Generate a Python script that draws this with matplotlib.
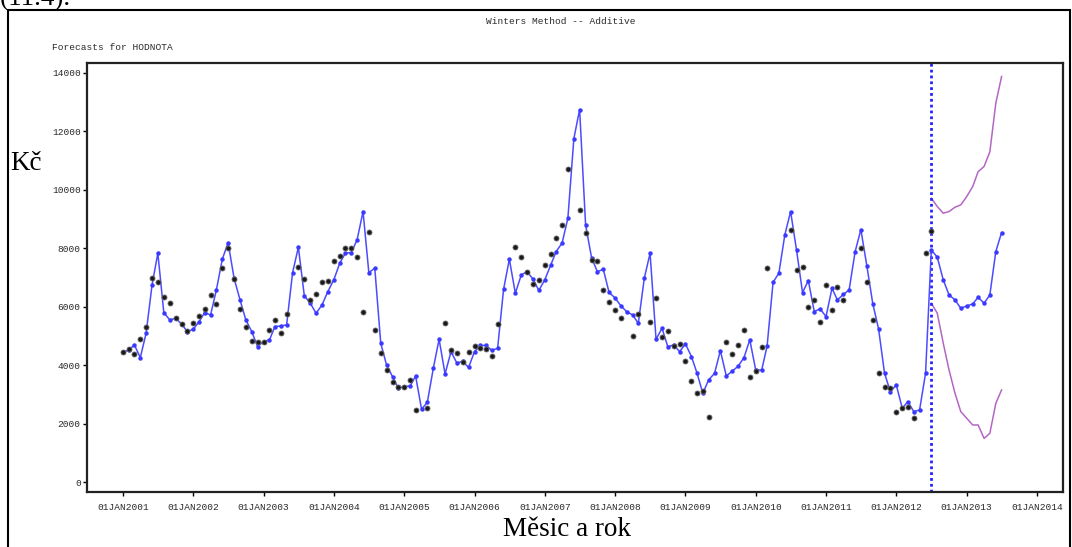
import numpy as np
import pandas as pd
import matplotlib
matplotlib.use("Agg")
import matplotlib.pyplot as plt
from matplotlib.patches import Rectangle

W, H = 1072, 547
nan = np.nan

# One-step-ahead predictions of HODNOTA, monthly from Jan 2001 to Jun 2012
predicted = [
    4441, 4521, 4692, 4258, 5091, 6747, 7831, 5799, 5548, 5605, 5411, 5148,
    5228, 5491, 5799, 5719, 6575, 7626, 8196, 6975, 6233, 5548, 5148, 4635,
    4806, 4863, 5320, 5342, 5377, 7169, 8037, 6370, 6119, 5776, 6062, 6518,
    6918, 7489, 7831, 7854, 8288, 9258, 7169, 7317, 4749, 4007, 3607, 3208,
    3265, 3288, 3630, 2489, 2730, 3893, 4886, 3699, 4463, 4075, 4130, 3920,
    4463, 4675, 4675, 4510, 4578, 6598, 7626, 6461, 7089, 7203, 6941, 6560,
    6918, 7431, 7888, 8180, 9030, 11750, 12750, 8801, 7680, 7200, 7280, 6490,
    6300, 6027, 5833, 5719, 5434, 6975, 7831, 4886, 5263, 4635, 4692, 4463,
    4726, 4292, 3744, 3037, 3493, 3721, 4498, 3630, 3800, 3960, 4260, 4870,
    3825, 3836, 4658, 6840, 7146, 8459, 9258, 7930, 6484, 6895, 5833, 5930,
    5662, 6632, 6233, 6420, 6575, 7880, 8640, 7400, 6100, 5240, 3721, 3094,
    3322, 2523, 2751, 2409, 2466, 3721,
]

# Observed values, Jan 2001 to Jul 2012
actual = [
    4441, 4543, 4383, 4897, 5320, 6975, 6838, 6324, 6119, 5605, 5411, 5183,
    5434, 5696, 5913, 6404, 6084, 7317, 8002, 6941, 5913, 5320, 4840, 4806,
    4783, 5205, 5548, 5114, 5753, nan, 7374, 6941, 6233, 6438, 6861, 6884,
    7580, 7751, 8002, 8002, 7717, 5833, 8573, 5205, 4406, 3836, 3413, 3242,
    3242, 3493, 2466, nan, 2523, nan, nan, 5434, 4530, 4429, 4121, 4463,
    4658, 4578, 4560, 4315, 5411, nan, nan, 8059, 7690, 7203, 6770, 6918,
    7420, 7790, 8360, 8801, 10719, nan, 9315, 8516, 7600, 7560, 6575, 6150,
    5890, 5605, nan, 5000, 5753, nan, 5491, 6290, 4977, 5183, 4658, 4726,
    4155, 3470, 3037, 3110, 2237, nan, nan, 4806, 4383, 4692, 5205, 3580,
    3805, 4635, 7340, nan, nan, nan, 8630, 7250, 7374, 5982, 6233, 5480,
    6730, 5890, 6667, 6220, nan, nan, 8002, 6840, 5560, 3744, 3265, 3208,
    2409, 2523, 2580, 2180, nan, 7831, 8596,
]

# Forecast with 95% limits, Jul 2012 to Jul 2013
forecast = [7945, 7694, 6918, 6404, 6233, 5947, 6027, 6096, 6324, 6119, 6404, 7888, 8539]
upper95 = [9715, 9429, 9200, 9258, 9406, 9486, 9772, 10114, 10620, 10800, 11300, 12968, 13881]
lower95 = [6119, 5776, 4749, 3836, 3037, 2409, 2180, 1952, 1952, 1495, 1667, 2694, 3151]

y_ticks = [0, 2000, 4000, 6000, 8000, 10000, 12000, 14000]
years = list(range(2001, 2015))
x_labels = [f"01JAN{y}" for y in years]

hist_dates = pd.date_range("2001-01-01", periods=len(actual), freq="MS")
fc_dates = pd.date_range(hist_dates[-1], periods=len(forecast), freq="MS")
line_dates = hist_dates[:len(predicted)].append(fc_dates)
line_vals = list(predicted) + list(forecast)

mono = "Liberation Mono"
serif = "Liberation Serif"
txt_col = "#2a2a2a"

fig = plt.figure(figsize=(W / 100, H / 100), dpi=100)
fig.patch.set_facecolor("white")

def fx(px):
    return px / W

def fy(py):
    return 1 - py / H

# outer frame of the report page
fig.patches.append(Rectangle((fx(8), -0.05), fx(1070) - fx(8), fy(10) + 0.05,
                             transform=fig.transFigure, fill=False,
                             edgecolor="black", lw=1.5))

ax = fig.add_axes([fx(87), fy(492), fx(1063) - fx(87), fy(63) - fy(492)])

ax.plot(line_dates, line_vals, color="#4b4bff", lw=1.1, marker="o", ms=2.2,
        mfc="#3a3aff", mec="#3a3aff", zorder=3)
ax.plot(hist_dates, actual, ls="none", marker="o", ms=3.6, color="#1a1a1a",
        mec="#666666", mew=0.6, zorder=4)
ax.plot(fc_dates, upper95, color="#b466c4", lw=1.1, zorder=2)
ax.plot(fc_dates, lower95, color="#b466c4", lw=1.1, zorder=2)
ax.axvline(hist_dates[-1], color="#2424ff", lw=2.0, ls=(0, (1, 1.1)), zorder=2)

ax.set_ylim(-342, 14342)
ax.set_xlim(pd.Timestamp("2000-06-28"), pd.Timestamp("2014-05-16"))
ax.set_yticks(y_ticks)
ax.set_yticklabels([str(v) for v in y_ticks], family=mono, fontsize=6.8, color=txt_col)
ax.set_xticks(pd.to_datetime([f"{y}-01-01" for y in years]))
ax.set_xticklabels(x_labels, family=mono, fontsize=6.8, color=txt_col)
ax.tick_params(axis="y", direction="out", length=3, width=1, pad=1.5)
ax.tick_params(axis="x", direction="out", length=3, width=1, pad=5)
for s in ax.spines.values():
    s.set_linewidth(1.6)
    s.set_color("#222222")

fig.text(fx(561), fy(22), "Winters Method -- Additive", family=mono, fontsize=6.8,
         color=txt_col, ha="center", va="center")
fig.text(fx(52), fy(47), "Forecasts for HODNOTA", family=mono, fontsize=6.8,
         color=txt_col, ha="left", va="center")
fig.text(fx(10), fy(163), "Kč", family=serif, fontsize=19.5, color="black",
         ha="left", va="center")
fig.text(fx(567), fy(530), "Měsic a rok", family=serif, fontsize=19.5, color="black",
         ha="center", va="center")
fig.text(fx(0), fy(5), "(11.4).", family=serif, fontsize=19.5, color="black",
         ha="left", va="baseline")

fig.savefig("out.png", dpi=100)
